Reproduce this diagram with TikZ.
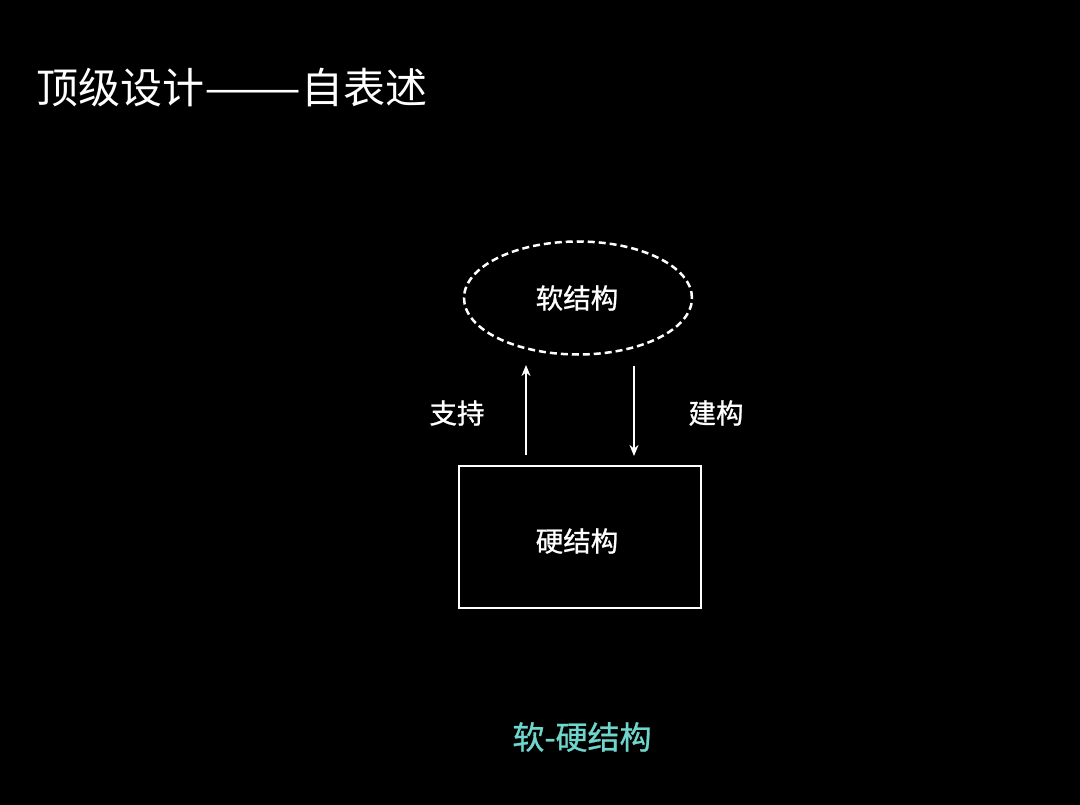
\documentclass[tikz,border=0pt]{standalone}
\usepackage{fontspec}
\setmainfont{Noto Sans CJK SC}
\newfontfamily\medcjk{Noto Sans CJK SC}[FakeBold=0.9]
\usetikzlibrary{shapes.geometric,arrows.meta}
\definecolor{teal1}{RGB}{110,214,204}
\tikzset{
  lbl/.style={text=white, font=\fontsize{27.5}{32}\selectfont\medcjk, inner sep=0pt},
  conn/.style={draw=white, line width=2pt, -{Stealth[length=11pt,width=9pt]}},
}
\begin{document}
\begin{tikzpicture}[x=1pt,y=-1pt]
\fill[black] (0,0) rectangle (1080,805);
\useasboundingbox (0,0) rectangle (1080,805);
\node[anchor=west, text=white, font=\fontsize{42}{48}\selectfont, inner sep=0pt] (title) at (36,88) {顶级设计\scalebox{1.38}[1]{——}自表述};
\node[ellipse, draw=white, dashed, dash pattern=on 7pt off 4pt, line width=2.5pt, minimum width=228pt, minimum height=113pt, inner sep=0pt] (soft) at (578,298) {};
\node[lbl] (softt) at (577,298) {软结构};
\node[draw=white, line width=2.5pt, minimum width=242pt, minimum height=142pt, inner sep=0pt] (hard) at (580,537) {};
\node[lbl] (hardt) at (577,541) {硬结构};
\coordinate (a1) at (526,455);
\coordinate (a2) at (526,365);
\coordinate (b1) at (634,366);
\coordinate (b2) at (634,456);
\draw[conn] (a1) -- (a2);
\draw[conn] (b1) -- (b2);
\node[lbl] (sup) at (457,413) {支持};
\node[lbl] (con) at (716,413) {建构};
\node[text=teal1, font=\fontsize{32}{36}\selectfont\medcjk, inner sep=0pt] (cap) at (582,737) {软-硬结构};
\end{tikzpicture}
\end{document}
